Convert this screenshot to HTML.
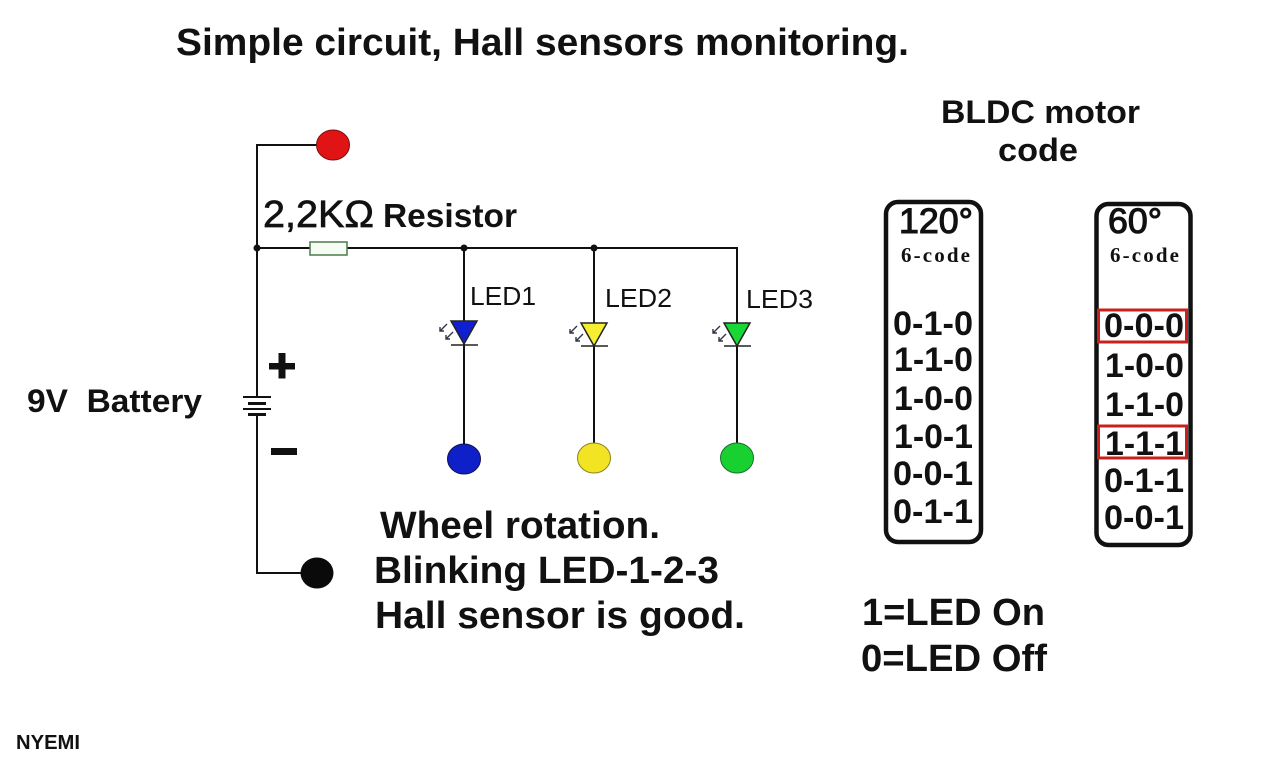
<!DOCTYPE html>
<html>
<head>
<meta charset="utf-8">
<style>
html,body{margin:0;padding:0;background:#fff;width:1280px;height:764px;overflow:hidden}
svg{display:block}
text{font-family:"Liberation Sans",sans-serif;fill:#111}
.b{font-weight:bold}
.h{stroke:#111;stroke-width:.7}
</style>
</head>
<body>
<svg width="1280" height="764" viewBox="0 0 1280 764" xmlns="http://www.w3.org/2000/svg">
<rect width="1280" height="764" fill="#fff"/>
<text class="b" x="176" y="55" font-size="38" textLength="733" lengthAdjust="spacingAndGlyphs">Simple circuit, Hall sensors monitoring.</text>

<!-- wires -->
<g fill="none" stroke="#111" stroke-width="2">
<path d="M333 145H257V397"/>
<path d="M257 248H310M347 248H737V450"/>
<path d="M464 248V446"/>
<path d="M594 248V446"/>
<path d="M257 414V573H303"/>
</g>
<rect x="310" y="242" width="37" height="13" fill="#f6fbf4" stroke="#4d7a4d" stroke-width="1.500"/>
<circle cx="257" cy="248" r="3.500" fill="#111"/>
<circle cx="464" cy="248" r="3.500" fill="#111"/>
<circle cx="594" cy="248" r="3.500" fill="#111"/>

<!-- terminals -->
<ellipse cx="333" cy="145" rx="16.500" ry="15" fill="#e01414" stroke="#7a1010" stroke-width="1"/>
<ellipse cx="317" cy="573" rx="16.500" ry="15.500" fill="#0a0a0a"/>
<ellipse cx="464" cy="459" rx="16.500" ry="15" fill="#1020c8" stroke="#101050" stroke-width="1"/>
<ellipse cx="594" cy="458" rx="16.500" ry="15" fill="#f2e422" stroke="#8a8420" stroke-width="1"/>
<ellipse cx="737" cy="458" rx="16.500" ry="15" fill="#18d030" stroke="#187030" stroke-width="1"/>

<!-- LEDs -->
<g stroke="#222" stroke-width="1.500">
<path d="M451 321H477L464 344Z" fill="#1020d0"/>
<path d="M451 345H478" fill="none"/>
<path d="M581 323H607L594 346Z" fill="#f6ee30"/>
<path d="M581 346H608" fill="none"/>
<path d="M724 323H750L737 346Z" fill="#18d838"/>
<path d="M724 346H751" fill="none"/>
</g>
<g stroke="#334" stroke-width="1.400" fill="none">
<path d="M447 324L440 331M440 327V331H444M453 332L446 339M446 335V339H450"/>
<path d="M577 326L570 333M570 329V333H574M583 334L576 341M576 337V341H580"/>
<path d="M720 326L713 333M713 329V333H717M726 334L719 341M719 337V341H723"/>
</g>
<text x="470" y="305" font-size="26" textLength="66" lengthAdjust="spacingAndGlyphs">LED1</text>
<text x="605" y="307" font-size="26" textLength="67" lengthAdjust="spacingAndGlyphs">LED2</text>
<text x="746" y="308" font-size="26" textLength="67" lengthAdjust="spacingAndGlyphs">LED3</text>

<!-- battery -->
<g fill="#111">
<rect x="243" y="396" width="28" height="2"/>
<rect x="248" y="402" width="18" height="3"/>
<rect x="243" y="408" width="28" height="2"/>
<rect x="248" y="413" width="18" height="3"/>
<rect x="269" y="363" width="26" height="6.500"/>
<rect x="278.500" y="353" width="7" height="25.500"/>
<rect x="271" y="448" width="26" height="7"/>
</g>
<text class="b" x="27" y="412" font-size="32" textLength="175" lengthAdjust="spacingAndGlyphs" xml:space="preserve">9V  Battery</text>

<text class="h" x="263" y="227" font-size="38" textLength="111" lengthAdjust="spacingAndGlyphs">2,2KΩ</text>
<text class="b" x="383" y="227" font-size="33" textLength="134" lengthAdjust="spacingAndGlyphs">Resistor</text>

<text class="b" x="380" y="538" font-size="38" textLength="280" lengthAdjust="spacingAndGlyphs">Wheel rotation.</text>
<text class="b" x="374" y="583" font-size="38" textLength="345" lengthAdjust="spacingAndGlyphs">Blinking LED-1-2-3</text>
<text class="b" x="375" y="628" font-size="38" textLength="370" lengthAdjust="spacingAndGlyphs">Hall sensor is good.</text>

<!-- right side -->
<text class="b" x="941" y="123" font-size="32" textLength="199" lengthAdjust="spacingAndGlyphs">BLDC motor</text>
<text class="b" x="998" y="161" font-size="32" textLength="80" lengthAdjust="spacingAndGlyphs">code</text>

<rect x="886" y="202" width="95" height="340" rx="12" fill="#fff" stroke="#111" stroke-width="4.500"/>
<rect x="1096.500" y="204" width="94" height="341" rx="12" fill="#fff" stroke="#111" stroke-width="4.500"/>

<text class="h" x="899" y="233" font-size="35" textLength="74" lengthAdjust="spacingAndGlyphs" style="stroke-width:1.100">120°</text>
<text class="h" x="1108" y="233" font-size="35" textLength="54" lengthAdjust="spacingAndGlyphs" style="stroke-width:1.100">60°</text>
<text class="b" x="901" y="262" font-size="21" textLength="69" lengthAdjust="spacing" style="font-family:'Liberation Serif',serif">6-code</text>
<text class="b" x="1110" y="262" font-size="21" textLength="69" lengthAdjust="spacing" style="font-family:'Liberation Serif',serif">6-code</text>

<g class="b" font-size="34" font-weight="bold">
<text x="893" y="335" textLength="80" lengthAdjust="spacingAndGlyphs">0-1-0</text>
<text x="894" y="371" textLength="79" lengthAdjust="spacingAndGlyphs">1-1-0</text>
<text x="894" y="410" textLength="79" lengthAdjust="spacingAndGlyphs">1-0-0</text>
<text x="894" y="448" textLength="79" lengthAdjust="spacingAndGlyphs">1-0-1</text>
<text x="893" y="485" textLength="80" lengthAdjust="spacingAndGlyphs">0-0-1</text>
<text x="893" y="523" textLength="80" lengthAdjust="spacingAndGlyphs">0-1-1</text>
<text x="1104" y="337" textLength="80" lengthAdjust="spacingAndGlyphs">0-0-0</text>
<text x="1105" y="377" textLength="79" lengthAdjust="spacingAndGlyphs">1-0-0</text>
<text x="1105" y="416" textLength="79" lengthAdjust="spacingAndGlyphs">1-1-0</text>
<text x="1105" y="455" textLength="79" lengthAdjust="spacingAndGlyphs">1-1-1</text>
<text x="1104" y="492" textLength="80" lengthAdjust="spacingAndGlyphs">0-1-1</text>
<text x="1104" y="529" textLength="80" lengthAdjust="spacingAndGlyphs">0-0-1</text>
</g>
<rect x="1098.500" y="310" width="88" height="32" fill="none" stroke="#c8201c" stroke-width="3"/>
<rect x="1098.500" y="426" width="88" height="32" fill="none" stroke="#c8201c" stroke-width="3"/>

<text class="b" x="862" y="625" font-size="38" textLength="183" lengthAdjust="spacingAndGlyphs">1=LED On</text>
<text class="b" x="861" y="671" font-size="38" textLength="186" lengthAdjust="spacingAndGlyphs">0=LED Off</text>

<text class="b" x="16" y="749" font-size="20" textLength="64" lengthAdjust="spacingAndGlyphs">NYEMI</text>
</svg>
</body>
</html>
